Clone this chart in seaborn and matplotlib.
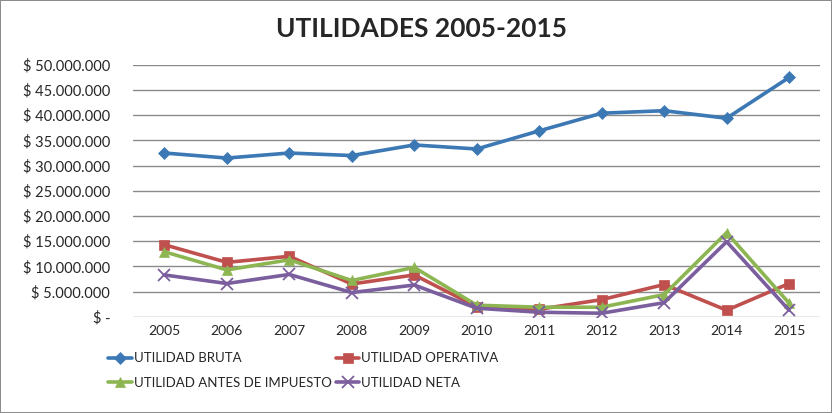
import matplotlib
matplotlib.use("Agg")
import matplotlib.pyplot as plt
import matplotlib.ticker as mticker
import seaborn as sns
import pandas as pd

# Data (values in pesos)
years = [2005, 2006, 2007, 2008, 2009, 2010, 2011, 2012, 2013, 2014, 2015]
utilidad_bruta = [32.5, 31.5, 32.5, 32.0, 34.1, 33.3, 36.9, 40.4, 40.9, 39.4, 47.5]
utilidad_operativa = [14.3, 10.8, 12.0, 6.5, 8.3, 2.0, 1.5, 3.4, 6.4, 1.3, 6.6]
utilidad_antes_impuesto = [12.9, 9.3, 11.3, 7.2, 9.8, 2.3, 1.9, 1.9, 4.4, 16.7, 2.7]
utilidad_neta = [8.3, 6.6, 8.4, 4.8, 6.3, 1.7, 0.9, 0.7, 2.8, 14.9, 1.3]

series_names = ["UTILIDAD BRUTA", "UTILIDAD OPERATIVA",
                "UTILIDAD ANTES DE IMPUESTO", "UTILIDAD NETA"]
series_values = [utilidad_bruta, utilidad_operativa,
                 utilidad_antes_impuesto, utilidad_neta]
colors = ["#3C78B4", "#C0504D", "#8DB653", "#7B5E9E"]
markers = ["D", "s", "^", "x"]
msizes = [6.5, 7.5, 7.5, 8]

rows = []
for name, vals in zip(series_names, series_values):
    for y, v in zip(years, vals):
        rows.append({"year": y, "serie": name, "valor": v * 1_000_000})
df = pd.DataFrame(rows)

sns.set_style("white")
plt.rcParams["font.family"] = ["Lato", "DejaVu Sans"]

fig = plt.figure(figsize=(8.32, 4.13), dpi=100, edgecolor="#8c8c8c", linewidth=1.2)
ax = fig.add_axes([0.16, 0.233, 0.826, 0.61])

for name, color, mk, ms in zip(series_names, colors, markers, msizes):
    sub = df[df["serie"] == name]
    sns.lineplot(data=sub, x="year", y="valor", ax=ax, color=color, lw=2.6,
                 marker=mk, markersize=ms, markeredgecolor=color,
                 markeredgewidth=1.3 if mk == "x" else 0.5, label=name)

ax.set_ylim(0, 50_000_000)
ax.set_xlim(2004.5, 2015.5)
ax.set_xticks(years)
ax.set_xticklabels([str(y) for y in years], fontsize=10, color="#262626")
ax.yaxis.set_major_locator(mticker.MultipleLocator(5_000_000))


def peso(v, pos):
    if v == 0:
        return "$ -"
    return "$ " + f"{v:,.0f}".replace(",", ".")


ax.yaxis.set_major_formatter(mticker.FuncFormatter(peso))
ax.tick_params(axis="y", labelsize=10.5, length=0, pad=16.5, labelcolor="#262626")
ax.tick_params(axis="x", length=0, pad=6)
ax.grid(axis="y", color="#8a8a8a", lw=1)
for s in ax.spines.values():
    s.set_visible(False)
ax.set_xlabel("")
ax.set_ylabel("")

fig.suptitle("UTILIDADES 2005-2015", x=0.507, y=0.96, fontsize=19, fontweight="bold")

handles, labels = ax.get_legend_handles_labels()
ax.get_legend().remove()
order = [0, 2, 1, 3]
fig.legend([handles[i] for i in order], [labels[i] for i in order],
           ncol=2, loc="upper left", bbox_to_anchor=(0.122, 0.163),
           frameon=False, fontsize=9.5, labelcolor="#262626",
           handlelength=1.8, handletextpad=0.15,
           columnspacing=0.3, labelspacing=0.95, borderpad=0)

fig.savefig("out.png", dpi=100, edgecolor=fig.get_edgecolor())
